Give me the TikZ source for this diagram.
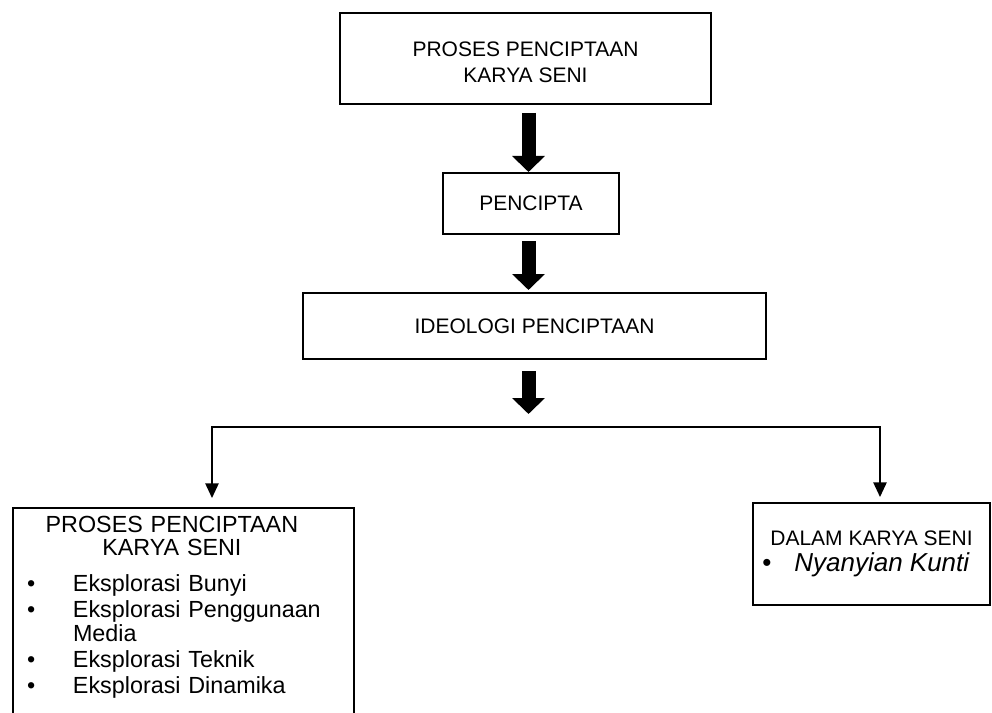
\documentclass[tikz,border=0pt]{standalone}
\usepackage{fontspec}
\setmainfont{Liberation Sans}
\usetikzlibrary{arrows.meta,positioning}

\newcommand{\dotitem}{\hspace*{3pt}\textbullet}
\tikzset{
  boxnode/.style={draw,line width=1.5pt,align=center,inner sep=0pt,font=\fontsize{15.75pt}{16.5pt}\selectfont},
  bigarrow/.style={line width=10.5pt,-{Triangle[width=24pt,length=12pt]}},
  splitarrow/.style={line width=1.2pt,{Triangle[width=10pt,length=11pt]}-{Triangle[width=10pt,length=11pt]}}
}

\begin{document}
\begin{tikzpicture}[x=0.75pt,y=-0.75pt]
  \clip (0,0) rectangle (992,713);
  \node[boxnode,minimum width=278.25pt,minimum height=68.25pt,font=\fontsize{15.75pt}{19.5pt}\selectfont] (proses) at (525.5,58.5) {\rule{0pt}{17pt}PROSES PENCIPTAAN\\KARYA SENI};
  \node[boxnode,minimum width=132pt,minimum height=45.75pt] (pencipta) at (531,203.5) {PENCIPTA};
  \node[boxnode,minimum width=347.25pt,minimum height=49.5pt] (ideologi) at (534.5,326) {IDEOLOGI PENCIPTAAN};
  \coordinate (mid) at (528.5,427);
  \coordinate (lsplit) at (212,427);
  \coordinate (rsplit) at (880,427);
  \node[boxnode,anchor=north west,text width=240.75pt,align=left,inner xsep=7.5pt,inner ysep=6pt,font=\fontsize{17.5pt}{17.25pt}\selectfont] (lbox) at (12,507) {%
    \begin{tabular}{@{}p{37.5pt}@{}l@{}}
      \multicolumn{2}{c}{PROSES PENCIPTAAN}\\
      \multicolumn{2}{c}{KARYA SENI}\\[9pt]
      \dotitem & Eksplorasi Bunyi\\[1.5pt]
      \dotitem & Eksplorasi Penggunaan\\[0.75pt]
               & Media\\[1.5pt]
      \dotitem & Eksplorasi Teknik\\[1.5pt]
      \dotitem & Eksplorasi Dinamika\\[12pt]
    \end{tabular}};
  \node[boxnode,minimum width=177.75pt,minimum height=76.5pt] (rbox) at (871.5,554) {%
    \begin{tabular}{@{}p{24pt}@{}l@{}}
      \multicolumn{2}{r}{DALAM KARYA SENI}\\
      {\fontsize{19.5pt}{20pt}\selectfont\textbullet} & {\fontsize{19.5pt}{20pt}\selectfont\itshape Nyanyian Kunti}
    \end{tabular}};

  \draw[bigarrow,shorten <=6pt,shorten >=0pt] (proses.south -| mid) -- (pencipta.north -| mid);
  \draw[bigarrow,shorten <=4.5pt,shorten >=1.5pt] (pencipta.south -| mid) -- (ideologi.north -| mid);
  \draw[bigarrow,shorten <=8.25pt,shorten >=9.75pt] (ideologi.south -| mid) -- (mid);
  \draw[splitarrow,shorten <=6.75pt,shorten >=3.75pt] (lbox.north -| lsplit) |- (rsplit) -- (rsplit |- rbox.north);
\end{tikzpicture}
\end{document}
